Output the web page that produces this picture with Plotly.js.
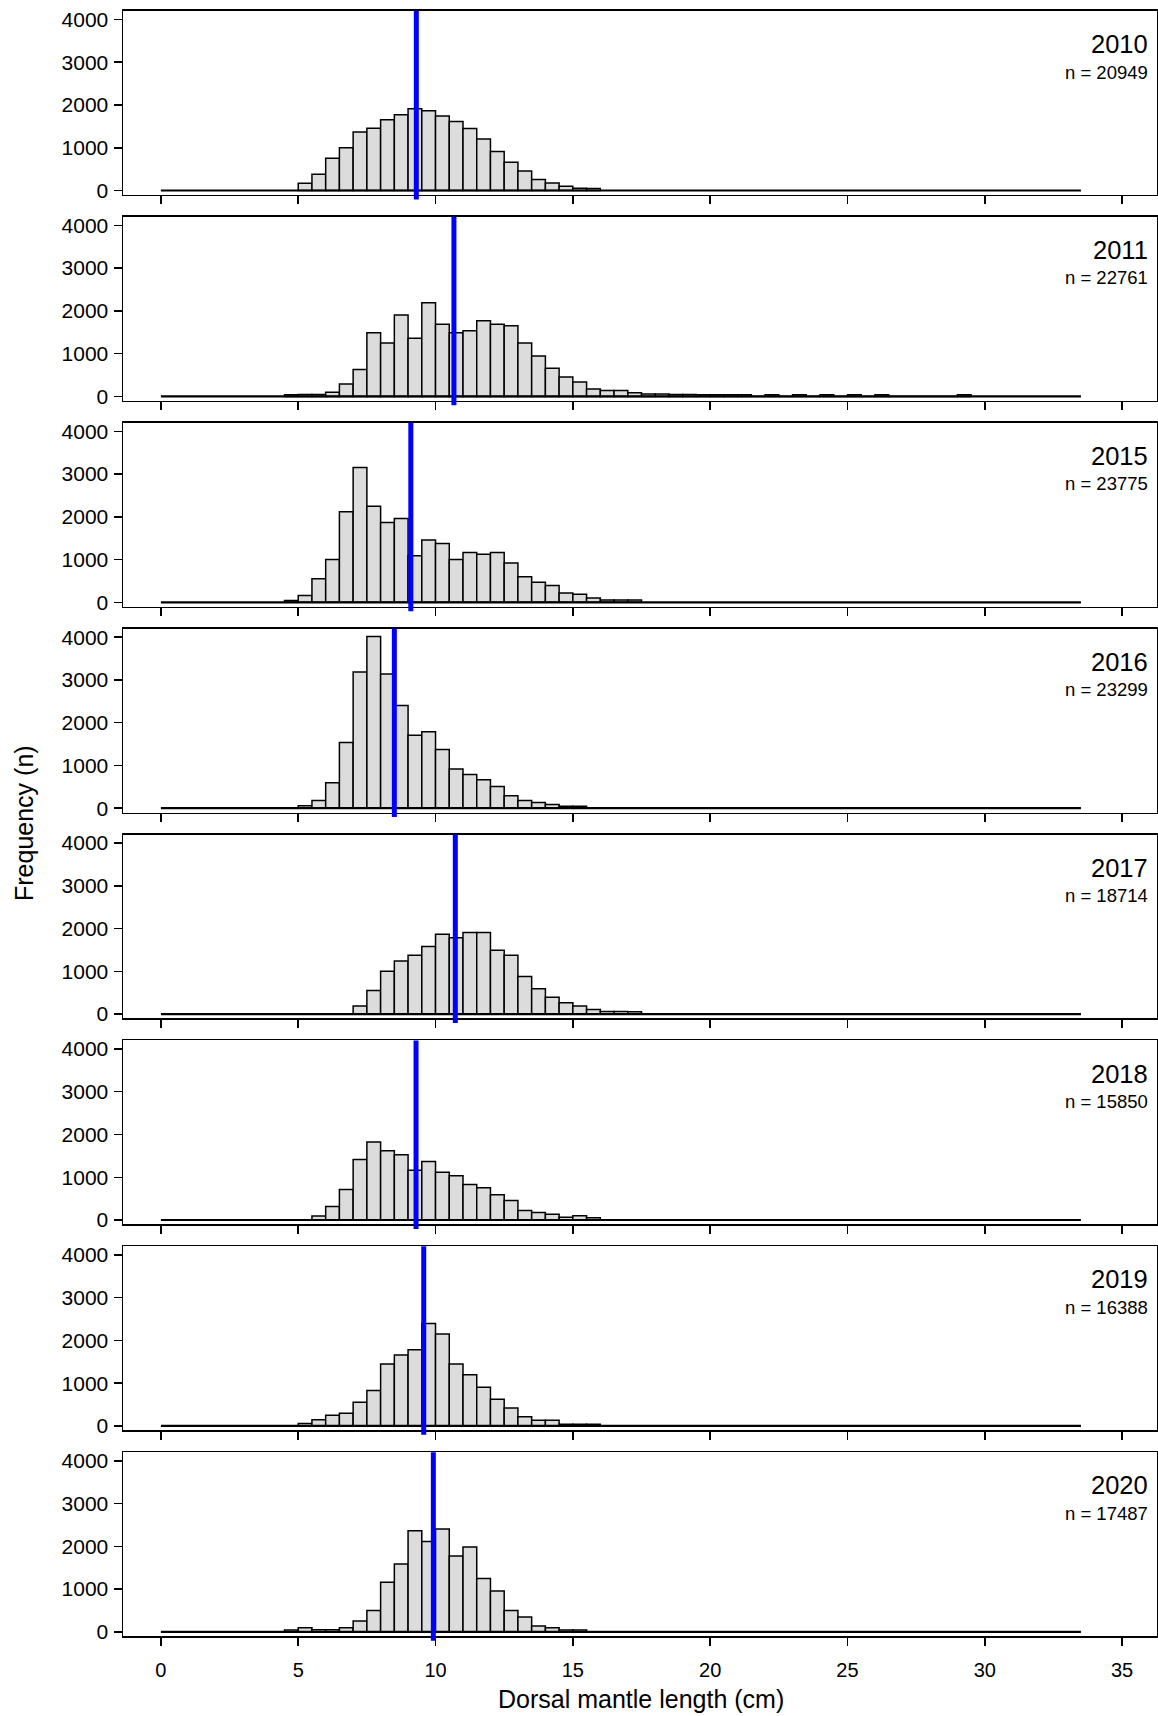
<!DOCTYPE html>
<html>
<head>
<meta charset="utf-8">
<script src="https://cdn.plot.ly/plotly-3.0.1.min.js"></script>
<style>
  html, body { margin: 0; padding: 0; background: #ffffff; }
  #chart { width: 1158px; height: 1716px; }
</style>
</head>
<body>
<div id="chart"></div>
<script>
// ---------------- data ----------------
const years = [2010, 2011, 2015, 2016, 2017, 2018, 2019, 2020];
const sampleSizes = [20949, 22761, 23775, 23299, 18714, 15850, 16388, 17487];
const meanLengths = [9.3, 10.67, 9.1, 8.5, 10.72, 9.29, 9.57, 9.92];
const binWidth = 0.5;
const histMin = 0;
const histMax = 33.5;
// first bin (left edge, cm) of each year's counts
const firstBins = [5.0, 4.5, 4.5, 5.0, 7.0, 5.5, 5.0, 4.5];

const counts2010 = [170, 378, 756, 1000, 1370, 1457, 1654, 1772, 1913, 1866, 1740, 1614, 1449, 1205, 913, 661, 457, 260, 173, 100, 55, 47];
const counts2011 = [40, 45, 45, 95, 290, 630, 1490, 1250, 1905, 1360, 2190, 1690, 1490, 1535, 1770, 1690, 1655, 1250, 945, 660, 455, 340, 175, 140, 140, 85, 55,
                    55, 45, 45, 40, 40, 40, 40, 0, 40, 0, 40, 0, 40, 0, 40, 0, 40, 0, 0, 0, 0, 0, 40];
const counts2015 = [40, 157, 551, 1000, 2118, 3150, 2244, 1866, 1960, 1087, 1457, 1378, 1000, 1165, 1126, 1165, 921, 598, 472, 394, 220, 189, 102, 55, 55, 55];
const counts2016 = [55, 182, 593, 1534, 3186, 4016, 3138, 2403, 1708, 1787, 1375, 917, 790, 664, 506, 292, 182, 134, 87, 47, 47];
const counts2017 = [189, 551, 1000, 1244, 1378, 1583, 1866, 1787, 1906, 1906, 1496, 1378, 882, 591, 394, 268, 189, 110, 63, 63, 55];
const counts2018 = [94, 314, 715, 1414, 1823, 1618, 1524, 1163, 1367, 1115, 1037, 833, 754, 589, 456, 220, 173, 134, 63, 102, 55];
const counts2019 = [55, 142, 252, 299, 551, 827, 1449, 1661, 1780, 2394, 2150, 1449, 1197, 906, 622, 417, 213, 134, 134, 40, 40, 40];
const counts2020 = [40, 94, 47, 47, 94, 252, 496, 1157, 1583, 2362, 2110, 2402, 1772, 1984, 1244, 953, 496, 346, 134, 94, 40, 40];

const allCounts = [counts2010, counts2011, counts2015, counts2016, counts2017, counts2018, counts2019, counts2020];

const xTicks = [0, 5, 10, 15, 20, 25, 30, 35];
const yTicks = [0, 1000, 2000, 3000, 4000];
const xTitle = 'Dorsal mantle length (cm)';
const yTitle = 'Frequency (n)';

// ---------------- layout geometry ----------------
const W = 1158, H = 1716;
const FONT = 'Liberation Sans, Arial, Helvetica, sans-serif';
const panelTop0 = 10.9, panelBot0 = 194.8, panelStep = 205.9;
const xDomain = [123 / W, 1157 / W];
const xRange = [-1.38, 36.27];
const yRange = [-100, 4200];

const traces = [];
const shapes = [];
const annotations = [];
const layout = {
  width: W, height: H,
  margin: { l: 0, r: 0, t: 0, b: 0, pad: 0 },
  paper_bgcolor: '#ffffff', plot_bgcolor: '#ffffff',
  showlegend: false,
  bargap: 0,
  font: { family: FONT, color: '#000000' }
};

years.forEach((yr, k) => {
  const idx = k + 1;
  const xa = 'x' + (idx === 1 ? '' : idx);
  const ya = 'y' + (idx === 1 ? '' : idx);
  const counts = allCounts[k];
  const centers = counts.map((_, i) => firstBins[k] + i * binWidth + binWidth / 2);

  // zero-count bins drawn as a baseline across the whole histogram range
  traces.push({
    type: 'scatter', mode: 'lines',
    x: [histMin, histMax], y: [0, 0],
    xaxis: xa, yaxis: ya,
    line: { color: '#000000', width: 2.2 },
    hoverinfo: 'skip'
  });
  traces.push({
    type: 'bar',
    x: centers, y: counts,
    width: counts.map(() => binWidth),
    xaxis: xa, yaxis: ya,
    marker: { color: '#DCDCDC', line: { color: '#000000', width: 1.5 } },
    name: String(yr)
  });

  const topPx = panelTop0 + k * panelStep;
  const botPx = panelBot0 + k * panelStep;
  const yDomain = [1 - botPx / H, 1 - topPx / H];

  layout['xaxis' + (idx === 1 ? '' : idx)] = {
    domain: xDomain, range: xRange, anchor: ya,
    tickmode: 'array', tickvals: xTicks, ticktext: xTicks.map(String),
    ticks: 'outside', ticklen: 8, tickwidth: 1.5, tickcolor: '#000000',
    showline: true, linecolor: '#000000', linewidth: 1.5, mirror: true,
    showgrid: false, zeroline: false,
    showticklabels: idx === years.length,
    ticklabelstandoff: 7,
    tickfont: { family: FONT, size: 20, color: '#000000' },
    automargin: false, fixedrange: true
  };
  layout['yaxis' + (idx === 1 ? '' : idx)] = {
    domain: yDomain, range: yRange, anchor: xa,
    tickmode: 'array', tickvals: yTicks, ticktext: yTicks.map(String),
    ticks: 'outside', ticklen: 8, tickwidth: 1.5, tickcolor: '#000000',
    showline: true, linecolor: '#000000', linewidth: 1.5, mirror: true,
    showgrid: false, zeroline: false,
    ticklabelstandoff: 1,
    tickfont: { family: FONT, size: 21, color: '#000000' },
    automargin: false, fixedrange: true
  };

  // mean line
  shapes.push({
    type: 'line', layer: 'above',
    xref: xa, yref: ya + ' domain',
    x0: meanLengths[k], x1: meanLengths[k], y0: -0.025, y1: 1,
    line: { color: '#0000FF', width: 5 }
  });

  annotations.push({
    xref: 'paper', yref: 'paper',
    x: 1150 / W, y: 1 - (44 + k * panelStep) / H,
    xanchor: 'right', yanchor: 'middle',
    text: String(yr), showarrow: false,
    font: { family: FONT, size: 25.5, color: '#000000' }
  });
  annotations.push({
    xref: 'paper', yref: 'paper',
    x: 1150 / W, y: 1 - (72 + k * panelStep) / H,
    xanchor: 'right', yanchor: 'middle',
    text: 'n = ' + sampleSizes[k], showarrow: false,
    font: { family: FONT, size: 18.5, color: '#000000' }
  });
});

annotations.push({
  xref: 'paper', yref: 'paper',
  x: 24 / W, y: 1 - 823 / H,
  xanchor: 'center', yanchor: 'middle', textangle: -90,
  text: yTitle, showarrow: false,
  font: { family: FONT, size: 25, color: '#000000' }
});
annotations.push({
  xref: 'paper', yref: 'paper',
  x: 641 / W, y: 1 - 1699 / H,
  xanchor: 'center', yanchor: 'middle',
  text: xTitle, showarrow: false,
  font: { family: FONT, size: 25, color: '#000000' }
});

layout.shapes = shapes;
layout.annotations = annotations;

Plotly.newPlot('chart', traces, layout, { displayModeBar: false, staticPlot: true });
</script>
</body>
</html>
